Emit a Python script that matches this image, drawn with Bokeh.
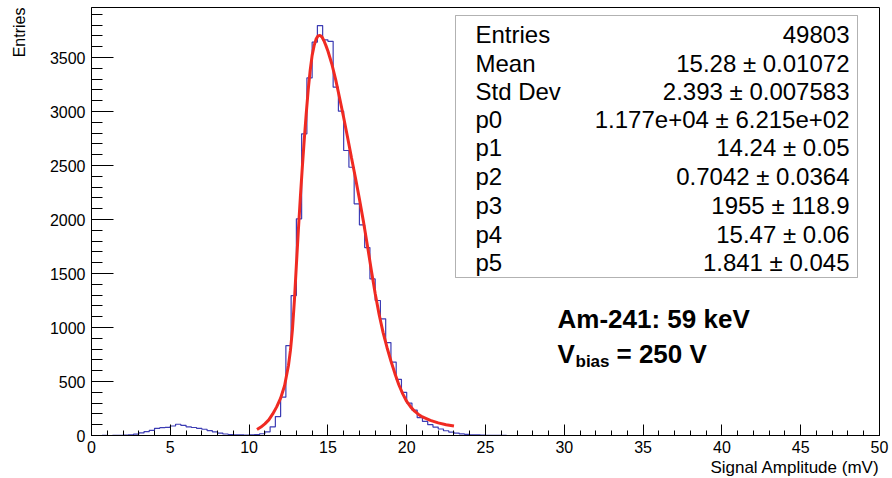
import numpy as np
from bokeh.plotting import figure
from bokeh.models import Range1d, FixedTicker, Label, BoxAnnotation, Title
from bokeh.embed import file_html
from bokeh.resources import INLINE

# ---------------- data ----------------
HIST_LOW = 0.0
HIST_HIGH = 50.0
counts_nonzero = [0, 0, 1, 0, 1, 2,
                  4, 7, 12, 24, 36, 48,
                  66, 72, 76, 88, 104, 94,
                  80, 74, 66, 58, 46, 34,
                  22, 14, 9, 6, 5, 4,
                  5, 8, 16, 34, 80, 175,
                  355, 833, 1296, 2006, 2793, 3311,
                  3642, 3796, 3664, 3650, 3225, 3003,
                  2639, 2484, 2145, 1950, 1740, 1450,
                  1250, 1080, 860, 680, 520, 400,
                  300, 235, 165, 130, 100, 78,
                  60, 44, 32, 22, 15, 10,
                  7, 5, 3, 2, 2, 1, 1]
counts = counts_nonzero + [0] * (150 - len(counts_nonzero))

fit_x = [10.5, 10.75, 11.0, 11.25, 11.5, 11.75, 12.0, 12.25, 12.5, 12.625, 12.75,
         12.875, 13.0, 13.125, 13.25, 13.375, 13.5, 13.625, 13.75, 13.875, 14.0,
         14.125, 14.25, 14.375, 14.5, 14.625, 14.75, 14.875, 15.0, 15.25, 15.5,
         15.75, 16.0, 16.25, 16.5, 16.75, 17.0, 17.25, 17.5, 17.75, 18.0, 18.25,
         18.5, 18.75, 19.0, 19.25, 19.5, 19.75, 20.0, 20.25, 20.5, 20.75, 21.0,
         21.5, 22.0, 22.5, 23.0]
fit_y = [55, 78, 108, 145, 200, 265, 345, 460, 650, 790, 980,
         1250, 1580, 1900, 2200, 2480, 2740, 2980, 3200, 3380, 3520,
         3610, 3670, 3700, 3705, 3690, 3655, 3610, 3560, 3440, 3290,
         3120, 2945, 2760, 2570, 2385, 2190, 1985, 1765, 1535, 1315, 1120,
         955, 815, 690, 575, 470, 385, 315, 265, 225, 195, 172,
         140, 117, 100, 88]

x_major_ticks = [0, 5, 10, 15, 20, 25, 30, 35, 40, 45, 50]
x_minor_ticks = list(range(0, 51))
y_major_ticks = [0, 500, 1000, 1500, 2000, 2500, 3000, 3500]
y_minor_ticks = list(range(0, 3901, 100))

stats_names = ["Entries", "Mean", "Std Dev", "p0", "p1", "p2", "p3", "p4", "p5"]
stats_values = ["49803", "15.28 \u00b1 0.01072", "2.393 \u00b1 0.007583",
                "1.177e+04 \u00b1 6.215e+02", "14.24 \u00b1 0.05", "0.7042 \u00b1 0.0364",
                "1955 \u00b1 118.9", "15.47 \u00b1 0.06", "1.841 \u00b1 0.045"]

# ---------------- layout helpers (reference pixel -> data) ----------------
FRAME_L, FRAME_R, FRAME_T, FRAME_B = 91, 879, 7, 435
W, H = 890, 477
X_SCALE = (FRAME_R - FRAME_L) / 50.0
Y_SCALE = 0.108
def dx(px):
    return (px - FRAME_L) / X_SCALE
def dy(py):
    return (FRAME_B - py) / Y_SCALE

FONT = "Liberation Sans"

p = figure(width=W, height=H, x_range=Range1d(0, 50),
           y_range=Range1d(0, (FRAME_B - FRAME_T) / Y_SCALE),
           output_backend="svg", toolbar_location=None,
           min_border_left=FRAME_L, min_border_right=W - FRAME_R,
           min_border_top=FRAME_T, min_border_bottom=H - FRAME_B)
p.background_fill_color = "white"
p.border_fill_color = "white"
p.outline_line_color = "black"
p.outline_line_width = 1
p.xgrid.visible = False
p.ygrid.visible = False

xa = p.xaxis[0]
xa.ticker = FixedTicker(ticks=x_major_ticks, minor_ticks=x_minor_ticks)
xa.major_tick_in = 11
xa.major_tick_out = 0
xa.minor_tick_in = 5
xa.minor_tick_out = 0
xa.major_label_standoff = 5
xa.major_label_text_font = FONT
xa.major_label_text_font_size = "16px"
xa.major_label_text_color = "black"
xa.axis_line_color = "black"

ya = p.yaxis[0]
ya.ticker = FixedTicker(ticks=y_major_ticks, minor_ticks=y_minor_ticks)
ya.major_tick_in = 22
ya.major_tick_out = 0
ya.minor_tick_in = 11
ya.minor_tick_out = 0
ya.major_label_standoff = 6
ya.major_label_text_font = FONT
ya.major_label_text_font_size = "16px"
ya.major_label_text_color = "black"
ya.axis_line_color = "black"

# axis titles as side titles (ROOT style: right/top aligned)
p.add_layout(Title(text="Signal Amplitude (mV)", align="right", text_font=FONT,
                   text_font_size="17px", text_font_style="normal", text_color="black",
                   standoff=0), "below")
# blank spacer between the y axis labels and the y title
p.add_layout(Title(text="\u00a0", align="right", text_font=FONT,
                   text_font_size="16px", text_font_style="normal", text_color="white",
                   standoff=0), "left")
p.add_layout(Title(text="Entries", align="right", text_font=FONT,
                   text_font_size="16px", text_font_style="normal", text_color="black",
                   standoff=0), "left")

# histogram (step outline)
edges = np.linspace(HIST_LOW, HIST_HIGH, len(counts) + 1)
step_y = counts + [counts[-1]]
p.step(x=edges, y=step_y, mode="after", line_color="#3c3cb4", line_width=1.2)

# fit curve
p.line(x=fit_x, y=fit_y, line_color="#f02a22", line_width=3)

# stats box
box = BoxAnnotation(left=dx(455), right=dx(857), top=dy(15), bottom=dy(277),
                    fill_color="white", fill_alpha=1.0, line_color="black", line_width=1,
                    level="overlay")
p.add_layout(box)
row_py = [34, 62.5, 90.5, 118.5, 147, 176, 205, 234, 262]
for name, val, py in zip(stats_names, stats_values, row_py):
    p.add_layout(Label(x=dx(475), y=dy(py), text=name, text_font=FONT, text_font_size="24px",
                       text_baseline="middle", text_align="left", text_color="black", level="overlay"))
    p.add_layout(Label(x=dx(849), y=dy(py), text=val, text_font=FONT, text_font_size="24px",
                       text_baseline="middle", text_align="right", text_color="black", level="overlay"))

# annotation texts
p.add_layout(Label(x=dx(557), y=dy(318), text="Am-241: 59 keV", text_font=FONT, text_color="black",
                   text_font_size="26px", text_font_style="bold", text_baseline="middle"))
p.add_layout(Label(x=dx(557), y=dy(353), text="V", text_font=FONT, text_color="black",
                   text_font_size="26px", text_font_style="bold", text_baseline="middle"))
p.add_layout(Label(x=dx(575), y=dy(361), text="bias", text_font=FONT, text_color="black",
                   text_font_size="17px", text_font_style="bold", text_baseline="middle"))
p.add_layout(Label(x=dx(616), y=dy(353), text="= 250 V", text_font=FONT, text_color="black",
                   text_font_size="26px", text_font_style="bold", text_baseline="middle"))

open("out.html", "w").write(file_html(p, INLINE))
